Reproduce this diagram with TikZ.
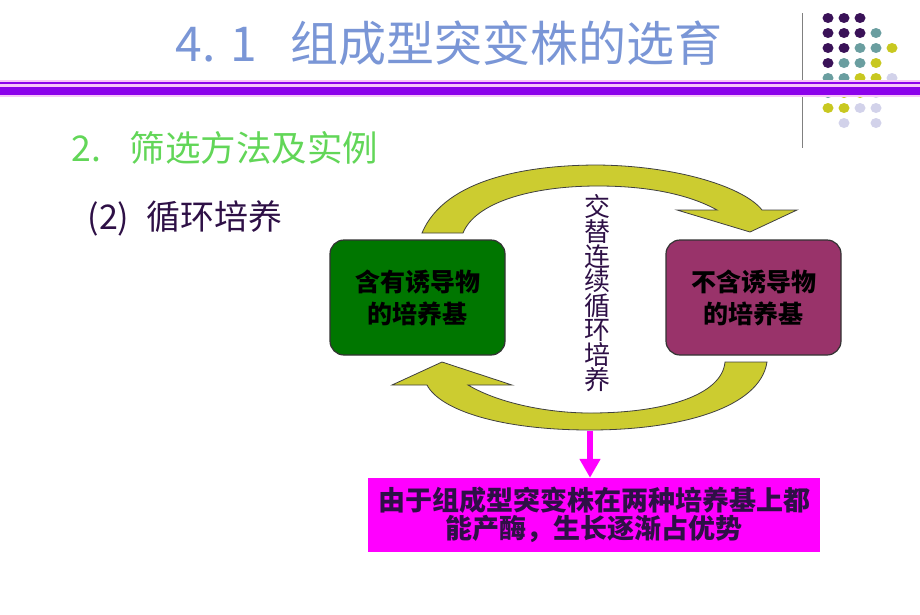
\documentclass[tikz,border=0pt]{standalone}
\usepackage{fontspec}
\setmainfont{Noto Sans CJK SC}
\usepackage{tikz}
\usetikzlibrary{arrows.meta}

\definecolor{titleblue}{RGB}{122,150,214}
\definecolor{subgreen}{RGB}{98,214,88}
\definecolor{darkplum}{RGB}{46,16,70}
\definecolor{cultgreen}{RGB}{0,118,0}
\definecolor{cultplum}{RGB}{153,51,106}
\definecolor{olive}{RGB}{204,204,48}
\definecolor{barviolet}{RGB}{140,0,235}
\definecolor{barpink}{RGB}{248,196,248}
\definecolor{brightmag}{RGB}{255,0,255}
\definecolor{dotP}{RGB}{58,18,88}
\definecolor{dotT}{RGB}{106,158,160}
\definecolor{dotY}{RGB}{200,200,32}
\definecolor{dotL}{RGB}{210,210,234}

\begin{document}
\begin{tikzpicture}[x=1pt,y=-1pt,
	plate/.style={draw=black!80, line width=1.2pt, rounded corners=14pt,
		minimum width=175pt, minimum height=115pt, align=center,
		font=\fontsize{25}{32}\selectfont\bfseries},
	cyclearrow/.style={fill=olive, draw=black!75, line width=0.8pt},
	resultbox/.style={fill=brightmag, minimum width=452pt, minimum height=74pt,
		align=center, text=darkplum, font=\fontsize{27}{28}\selectfont\bfseries}]
\useasboundingbox (0,0) rectangle (920,614);

%dots in the corner
\foreach \c/\r/\col in {0/0/dotP,1/0/dotP,2/0/dotP,
		0/1/dotP,1/1/dotP,2/1/dotP,3/1/dotT,
		0/2/dotP,1/2/dotP,2/2/dotT,3/2/dotT,4/2/dotY,
		0/3/dotP,1/3/dotT,2/3/dotT,3/3/dotY,
		0/4/dotT,1/4/dotT,2/4/dotY,3/4/dotY,4/4/dotL,
		0/5/dotT,1/5/dotY,2/5/dotY,3/5/dotL,
		0/6/dotY,1/6/dotY,2/6/dotL,3/6/dotL,
		1/7/dotL,3/7/dotL}
	\fill [\col] (828+\c*16,18+\r*15) ellipse [x radius=5.5, y radius=5];
\draw [gray, line width=1pt] (802,13) -- (802,148);

%title bar
\fill [barpink] (0,80) rectangle (920,97);
\draw [barviolet, line width=2pt] (0,83) -- (920,83);
\draw [barviolet, line width=8pt] (0,91) -- (920,91);

\node (title) [text=titleblue, font=\fontsize{48}{48}\selectfont] at (449,43)
	{4.\hspace{0.3em}1\hspace{0.7em}组成型突变株的选育};
\node (method) [anchor=west, text=subgreen, font=\fontsize{35.5}{36}\selectfont]
	at (68,148) {2.\hspace{0.8em}筛选方法及实例};
\node (cycle) [anchor=west, text=darkplum, font=\fontsize{34}{34}\selectfont]
	at (84,218) {(2)\hspace{0.5em}循环培养};

%the two media
\node (withind) [plate, fill=cultgreen] at (417.5,297.5) {含有诱导物\\的培养基};
\node (noind) [plate, fill=cultplum] at (753.5,297.5) {不含诱导物\\的培养基};

\node (alt) [text=darkplum, align=center, font=\fontsize{26}{24.6}\selectfont]
	at (597,293) {交\\替\\连\\续\\循\\环\\培\\养};

%curved arrows
\fill [cyclearrow] (422,233) .. controls (445,178) and (530,165) .. (598,165)
	.. controls (680,166) and (745,188) .. (762,210) -- (797,210) -- (750,232)
	-- (677,210) -- (717,210) .. controls (690,195) and (650,186) .. (598,186)
	.. controls (530,186) and (475,203) .. (463,233) -- cycle;
\fill [cyclearrow] (767,362) .. controls (760,408) and (680,430) .. (590,430)
	.. controls (500,430) and (440,410) .. (427,385) -- (392,385) -- (442,362)
	-- (512,385) -- (468,385) .. controls (500,404) and (550,413) .. (590,413)
	.. controls (665,413) and (722,395) .. (725,362) -- cycle;

%result
\node (result) [resultbox] at (594,515)
	{由于组成型突变株在两种培养基上都\\能产酶，生长逐渐占优势};
\coordinate (arcbottom) at (590,431);
\draw [brightmag, line width=6pt, -{Triangle[width=20pt,length=19pt]}]
	(arcbottom) -- (arcbottom |- result.north);

\end{tikzpicture}
\end{document}
